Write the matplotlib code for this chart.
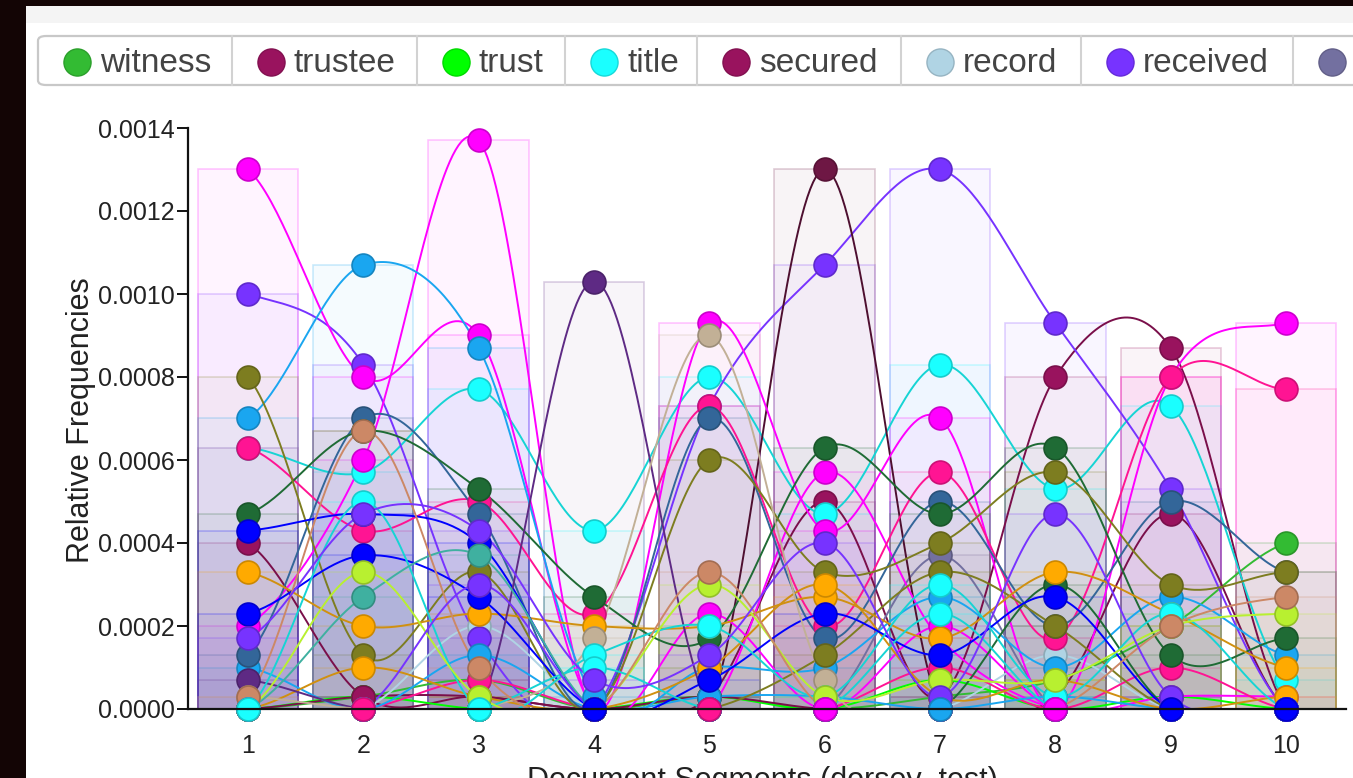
import numpy as np
import matplotlib
matplotlib.use("Agg")
import matplotlib.pyplot as plt
from matplotlib.patches import FancyBboxPatch, Rectangle
from matplotlib.lines import Line2D
from matplotlib.colors import to_rgb

plt.rcParams['font.family'] = ['Liberation Sans', 'DejaVu Sans']

W, H = 1353, 778

# ---------------- data (relative frequencies, units of 1e-5) ----------------
segments = [1, 2, 3, 4, 5, 6, 7, 8, 9, 10]
segment_labels = ["1", "2", "3", "4", "5", "6", "7", "8", "9", "10"]
y_ticks = [0.0, 0.0002, 0.0004, 0.0006, 0.0008, 0.0010, 0.0012, 0.0014]

witness   = [0, 3, 7, 0, 3, 0, 3, 7, 20, 40]
trustee   = [40, 3, 3, 0, 3, 50, 3, 80, 87, 0]
trust     = [0, 3, 0, 0, 3, 0, 7, 0, 3, 0]
title     = [63, 57, 77, 43, 80, 47, 83, 53, 73, 7]
secured   = [0, 3, 3, 0, 3, 0, 0, 3, 47, 0]
record    = [0, 0, 20, 0, 0, 0, 0, 13, 0, 0]
received  = [100, 83, 17, 0, 73, 107, 130, 93, 53, 0]
recorded  = [0, 0, 0, 0, 0, 0, 37, 0, 0, 0]
deed      = [0, 0, 0, 0, 0, 130, 0, 0, 0, 0]
said      = [20, 60, 137, 0, 93, 43, 70, 0, 80, 93]
party     = [130, 80, 90, 0, 23, 0, 20, 0, 3, 3]
premises  = [0, 0, 0, 0, 0, 57, 17, 0, 0, 0]
mortgage  = [63, 43, 50, 23, 73, 20, 57, 17, 80, 77]
note      = [0, 0, 7, 0, 0, 0, 10, 0, 10, 0]
county    = [70, 107, 87, 3, 10, 10, 27, 10, 27, 13]
book      = [10, 0, 13, 0, 3, 3, 0, 3, 0, 0]
land      = [13, 70, 47, 0, 70, 17, 50, 20, 50, 33]
estate    = [47, 67, 53, 27, 17, 63, 47, 63, 13, 17]
page      = [0, 0, 0, 0, 0, 0, 0, 30, 0, 0]
paid      = [80, 13, 33, 0, 60, 33, 40, 57, 30, 33]
sum_      = [0, 0, 0, 0, 0, 13, 33, 20, 0, 0]
dollars   = [33, 20, 23, 20, 20, 27, 17, 33, 23, 10]
interest  = [0, 10, 3, 0, 10, 30, 3, 7, 0, 3]
property_ = [43, 47, 40, 0, 7, 23, 13, 27, 0, 0]
lot       = [23, 37, 27, 0, 0, 0, 0, 0, 0, 0]
grantor   = [7, 0, 0, 103, 0, 0, 0, 0, 0, 0]
grantee   = [3, 0, 0, 17, 90, 7, 0, 0, 0, 0]
heirs     = [0, 50, 0, 13, 20, 3, 30, 3, 23, 0]
assigns   = [0, 0, 0, 10, 0, 0, 23, 0, 0, 0]
acres     = [0, 27, 37, 0, 0, 0, 0, 0, 0, 0]
sold      = [0, 33, 3, 0, 30, 3, 7, 7, 20, 23]
executed  = [3, 67, 10, 0, 33, 0, 0, 0, 20, 27]
conveyed  = [17, 47, 43, 7, 13, 40, 3, 47, 3, 0]
described = [0, 0, 30, 0, 0, 0, 0, 0, 0, 0]

series_names = ["witness", "trustee", "trust", "title", "secured", "record",
                "received", "recorded", "deed", "said", "party", "premises",
                "mortgage", "note", "county", "book", "land", "estate", "page",
                "paid", "sum", "dollars", "interest", "property", "lot",
                "grantor", "grantee", "heirs", "assigns", "acres", "sold",
                "executed", "conveyed", "described"]
series_values = [witness, trustee, trust, title, secured, record, received,
                 recorded, deed, said, party, premises, mortgage, note, county,
                 book, land, estate, page, paid, sum_, dollars, interest,
                 property_, lot, grantor, grantee, heirs, assigns, acres, sold,
                 executed, conveyed, described]
series_colors = ["#33bb33", "#99135e", "#00ff00", "#1affff", "#99135e",
                 "#b0d4e4", "#7733ff", "#7370a0", "#6e1744", "#ff00ff",
                 "#ff00ff", "#ff00ff", "#ff1493", "#ff1493", "#1aa6f0",
                 "#1aa6f0", "#336699", "#1f6b35", "#1f6b35", "#7d7d20",
                 "#7d7d20", "#ffaa00", "#ffaa00", "#0000ff", "#0000ff",
                 "#5e2a84", "#c2b096", "#1affff", "#1affff", "#3fb0a0",
                 "#b8f030", "#cc8866", "#7733ff", "#7733ff"]
# which series' zero-marker sits on top at each segment
zero_on_top = ["heirs", "note", "heirs", "property", "note", "party", "book",
               "said", "property", "property"]
line_colors = {"#ffaa00": "#d09010", "#1affff": "#16d4d4", "#99135e": "#7a0f4a",
               "#6e1744": "#4e0f30"}

SCALE = 1e-5

# ---------------- figure ----------------
fig = plt.figure(figsize=(W / 100, H / 100), dpi=100)
fig.patch.set_facecolor("white")


def fx(px):
    return px / W


def fy(py):
    return 1 - py / H


fig.patches.append(Rectangle((0, 0), fx(26), 1, transform=fig.transFigure,
                             facecolor="#130505", edgecolor="none", zorder=0))
fig.patches.append(Rectangle((0, fy(6)), 1, 1 - fy(6), transform=fig.transFigure,
                             facecolor="#130505", edgecolor="none", zorder=0))
fig.patches.append(Rectangle((fx(26), fy(23)), 1, fy(6) - fy(23),
                             transform=fig.transFigure,
                             facecolor="#f4f4f4", edgecolor="none", zorder=0))

ax_l, ax_r, ax_t, ax_b = 188, 1346, 128, 709
ax = fig.add_axes([fx(ax_l), fy(ax_b), fx(ax_r) - fx(ax_l), fy(ax_t) - fy(ax_b)])
ax.set_facecolor("none")
ax.set_xlim(0.48, 10.52)
ax.set_ylim(0, 0.0014)


def catmull(xs, ys, n=40):
    xs = np.asarray(xs, float)
    ys = np.asarray(ys, float)
    ext = np.concatenate([[ys[0]], ys, [ys[-1]]])
    m = (ext[2:] - ext[:-2]) / 2.0
    ox, oy = [], []
    for i in range(len(xs) - 1):
        t = np.linspace(0, 1, n, endpoint=(i == len(xs) - 2))
        h00 = 2 * t**3 - 3 * t**2 + 1
        h10 = t**3 - 2 * t**2 + t
        h01 = -2 * t**3 + 3 * t**2
        h11 = t**3 - t**2
        oy.append(h00 * ys[i] + h10 * m[i] + h01 * ys[i + 1] + h11 * m[i + 1])
        ox.append(xs[i] + t * (xs[i + 1] - xs[i]))
    return np.concatenate(ox), np.concatenate(oy)


def darker(c, f=0.72):
    r, g, b = to_rgb(c)
    return (r * f, g * f, b * f)


x = np.array(segments, float)
for name, vals, col in zip(series_names, series_values, series_colors):
    v = np.array(vals, float) * SCALE
    r, g, b = to_rgb(col)
    ax.bar(x, v, width=0.87, color=(r, g, b, 0.045),
           edgecolor=(r, g, b, 0.22), linewidth=1.2, zorder=1)

for name, vals, col in zip(series_names, series_values, series_colors):
    v = np.array(vals, float) * SCALE
    cx, cy = catmull(x, v)
    ax.plot(cx, cy, color=line_colors.get(col, col), lw=1.4, zorder=2,
            solid_capstyle="round")

MS = 16.5
for name, vals, col in zip(series_names, series_values, series_colors):
    v = np.array(vals, float) * SCALE
    ax.plot(x, v, linestyle="none", marker="o", ms=MS,
            markerfacecolor=col, markeredgecolor=darker(col, 0.8),
            markeredgewidth=1.2, zorder=3, clip_on=False)

# zero markers that lie on top of the stacked zero points
for xi, nm in zip(segments, zero_on_top):
    k = series_names.index(nm)
    col = series_colors[k]
    val = series_values[k][xi - 1] * SCALE
    ax.plot([xi], [val], linestyle="none", marker="o", ms=MS,
            markerfacecolor=col, markeredgecolor=darker(col, 0.8),
            markeredgewidth=1.2, zorder=3.5, clip_on=False)

for s in ["top", "right"]:
    ax.spines[s].set_visible(False)
for s in ["left", "bottom"]:
    ax.spines[s].set_linewidth(1.6)
    ax.spines[s].set_color("#111111")
    ax.spines[s].set_zorder(4)

ax.set_xticks(segments)
ax.set_xticklabels(segment_labels)
ax.set_yticks(y_ticks)
ax.set_yticklabels([f"{t:.4f}" for t in y_ticks])
ax.tick_params(axis="both", direction="out", length=8, width=1.4,
               color="#111111", labelcolor="#222222", labelsize=18)
ax.tick_params(axis="x", pad=10)
ax.tick_params(axis="y", pad=1.5)

fig.text(fx(81), fy(420), "Relative Frequencies", rotation=90, ha="center",
         va="center", fontsize=22, color="#222222")
fig.text(fx(762), fy(766), "Document Segments (dorsey_test)", ha="center",
         va="top", fontsize=22, color="#222222")

# ---------------- legend ----------------
leg_names = series_names[:8]
leg_colors = series_colors[:8]
seps = [38, 232, 417, 565, 697, 901, 1081, 1293, 1420]
top, bot = 36, 85
fig.patches.append(FancyBboxPatch((fx(seps[0]), fy(bot)), fx(seps[-1]) - fx(seps[0]),
                                  fy(top) - fy(bot),
                                  boxstyle="round,pad=0,rounding_size=0.006",
                                  transform=fig.transFigure, facecolor="white",
                                  edgecolor="#c8c8c8", linewidth=1.6, zorder=5))
for s in seps[1:-1]:
    fig.add_artist(Line2D([fx(s), fx(s)], [fy(top), fy(bot)], transform=fig.transFigure,
                          color="#d2d2d2", lw=1.5, zorder=6))
cy_leg = 62
for i, (nm, col) in enumerate(zip(leg_names, leg_colors)):
    left = seps[i]
    fig.add_artist(Line2D([fx(left + 39)], [fy(cy_leg)], transform=fig.transFigure,
                          marker="o", ms=19.5, markerfacecolor=col,
                          markeredgecolor=darker(col, 0.85), markeredgewidth=1,
                          linestyle="none", zorder=7))
    if left + 62 < W - 10:
        fig.text(fx(left + 62), fy(cy_leg + 1), nm, ha="left", va="center",
                 fontsize=24, color="#444444", zorder=7)

fig.savefig("out.png", dpi=100, facecolor=fig.get_facecolor())
